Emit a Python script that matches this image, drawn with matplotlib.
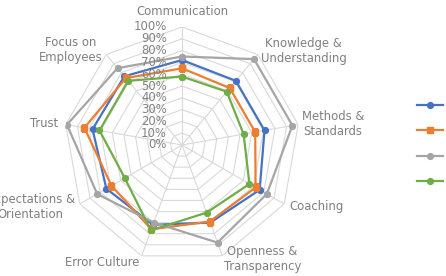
import numpy as np
import matplotlib
matplotlib.use("Agg")
import matplotlib.pyplot as plt
from matplotlib.lines import Line2D

categories = ["Communication", "Knowledge &\nUnderstanding", "Methods &\nStandards", "Coaching",
              "Openness &\nTransparency", "Error Culture", "Expectations &\nOrientation", "Trust",
              "Focus on\nEmployees"]
series_blue = [72, 71, 71, 76, 70, 72, 74, 77, 76]
series_orange = [65, 63, 63, 72, 69, 76, 69, 84, 74]
series_gray = [75, 95, 95, 83, 88, 70, 83, 99, 85]
series_green = [58, 59, 53, 66, 61, 77, 56, 71, 71]
tick_values = [0, 10, 20, 30, 40, 50, 60, 70, 80, 90, 100]
tick_labels = [f"{v}%" for v in tick_values]

W, H = 446, 276
fig = plt.figure(figsize=(W / 100, H / 100), dpi=100)
cx, cy, R = 182, 145, 118
ax = fig.add_axes([(cx - R) / W, (H - cy - R) / H, 2 * R / W, 2 * R / H], projection="polar")
ax.set_theta_zero_location("N")
ax.set_theta_direction(-1)
ax.set_ylim(0, 100)
ax.grid(False)
ax.spines["polar"].set_visible(False)
ax.set_xticks([])
ax.set_yticks([])
ax.patch.set_alpha(0)

n = len(categories)
theta = np.arange(n) * 2 * np.pi / n
theta_c = np.append(theta, theta[0])

grid_col = "#d9d9d9"
for v in tick_values[1:]:
    ax.plot(theta_c, [v] * (n + 1), color=grid_col, lw=0.8, zorder=1)
for t in theta:
    ax.plot([t, t], [0, 100], color=grid_col, lw=0.8, zorder=1)

colors = ["#4472c4", "#ed7d31", "#a5a5a5", "#70ad47"]
markers = ["o", "s", "o", "o"]
data = [series_blue, series_orange, series_gray, series_green]
draw_order = [2, 0, 1, 3]
for i in draw_order:
    vals = np.append(data[i], data[i][0])
    ax.plot(theta_c, vals, color=colors[i], lw=1.6, marker=markers[i], markersize=4.2, zorder=3 + i)

text_col = "#808080"
fs = 8.4
for v, lab in zip(tick_values, tick_labels):
    ax.annotate(lab, xy=(0, v), xytext=(-11, 0), textcoords="offset points",
                ha="right", va="center", fontsize=fs, color=text_col, zorder=10)

label_specs = [
    (1.08, "center", "bottom"),
    (1.04, "left", "center"),
    (1.03, "left", "center"),
    (1.05, "left", "center"),
    (1.03, "left", "center"),
    (1.06, "right", "center"),
    (1.05, "right", "center"),
    (1.07, "right", "center"),
    (1.05, "right", "center"),
]
for t, lab, (r, ha, va) in zip(theta, categories, label_specs):
    ax.text(t, r * 100, lab, ha=ha, va=va, fontsize=fs, color=text_col,
            multialignment="center", clip_on=False)

handles = [Line2D([], [], color=c, lw=1.6, marker=m, markersize=4.2) for c, m in zip(colors, markers)]
leg = fig.legend(handles, [""] * 4, loc="upper left", bbox_to_anchor=(412 / W, 1 - 95 / H),
                 frameon=False, handlelength=2.6, labelspacing=1.55, fontsize=7.2, borderpad=0)

fig.savefig("out.png", dpi=100)
